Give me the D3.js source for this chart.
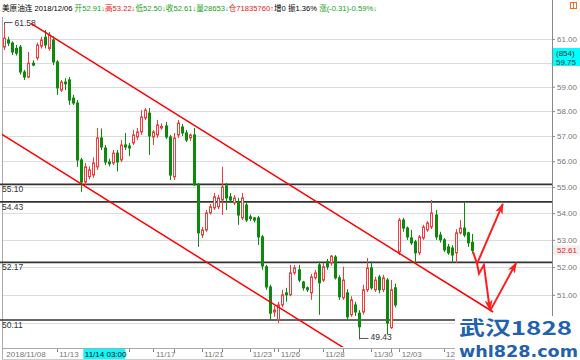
<!DOCTYPE html>
<html><head><meta charset="utf-8">
<script src="https://cdn.jsdelivr.net/npm/d3@7"></script>
<style>body{margin:0;background:#fff}svg{display:block}</style>
</head><body>
<svg id="c" width="580" height="360"></svg>
<script>
// ---- data (4h candles, 美原油连) ----
const opens  = [60.66,60.96,60.83,60.60,60.66,59.61,59.40,59.98,60.20,60.70,61.08,60.60,60.96,60.03,58.86,59.19,59.28,58.53,58.33,56.05,
55.19,55.40,55.46,55.78,56.92,56.52,55.97,55.93,56.32,56.05,56.64,56.60,56.72,56.96,57.16,57.72,57.92,56.96,57.04,57.32,
57.40,56.96,55.39,57.04,57.36,57.12,56.92,57.04,55.08,53.18,53.37,54.01,54.20,54.24,54.50,55.04,54.62,54.39,54.43,53.82,
54.31,53.86,53.82,53.82,53.11,52.01,51.28,50.39,50.11,50.64,51.07,51.00,51.79,51.90,51.46,51.25,51.07,51.61,52.08,51.53,
52.20,52.15,52.37,51.61,50.89,51.07,50.29,50.64,50.35,50.39,51.18,51.97,51.18,51.64,51.18,51.53,49.84,51.25,52.56,53.74,
53.44,53.07,52.93,52.52,53.07,53.37,53.48,53.93,53.18,53.00,52.74,52.70,52.52,53.26,53.44,53.26,52.91];
const highs  = [61.58,61.10,60.90,60.75,60.75,59.70,60.45,60.10,60.85,61.10,61.39,61.30,61.12,60.11,59.28,59.35,59.40,58.66,58.45,56.13,
55.93,55.80,56.15,57.32,57.30,56.64,56.10,56.44,56.44,56.84,57.12,56.72,57.24,57.32,58.04,58.12,58.12,57.24,57.64,57.50,
57.56,57.04,57.12,57.64,57.48,57.24,57.10,57.32,55.15,53.48,54.12,54.35,54.77,54.70,55.78,55.15,54.77,54.69,54.58,54.77,
54.40,53.95,53.86,53.90,53.18,52.08,51.36,50.60,50.75,51.18,51.25,52.08,52.08,52.08,51.50,51.30,51.75,51.90,52.20,52.15,
52.30,52.44,52.44,51.70,52.01,51.20,50.95,50.75,50.46,51.36,52.33,52.20,51.65,51.72,51.72,51.60,51.53,51.40,53.82,53.82,
53.50,53.37,53.00,53.18,53.56,53.70,54.50,54.12,53.30,53.07,52.85,52.80,53.40,53.74,54.39,53.30,53.22];
const lows   = [60.53,60.70,60.32,60.30,59.50,59.28,59.35,59.85,60.10,60.60,60.60,60.50,59.90,58.66,58.78,58.86,58.25,58.25,55.78,54.81,
55.08,55.30,55.35,55.66,56.44,55.85,55.80,55.85,55.60,55.97,56.44,56.20,56.64,56.84,57.04,57.64,56.25,56.64,56.92,57.25,
56.88,55.27,55.27,56.92,57.00,56.76,56.80,55.04,52.74,53.07,53.30,53.95,54.12,54.15,53.93,54.12,54.40,54.31,53.56,53.74,
53.67,53.70,53.65,52.81,51.90,51.18,50.11,50.22,50.00,50.55,50.75,50.95,51.72,51.45,51.15,51.10,50.82,51.55,50.29,51.46,
51.90,52.05,51.55,50.82,50.82,50.11,50.22,50.25,49.43,50.30,51.10,51.18,51.10,51.05,51.10,49.60,49.80,50.55,52.44,53.30,
53.00,52.81,52.15,52.44,53.00,53.30,53.40,53.00,52.90,52.55,52.45,52.15,52.15,53.20,53.10,52.74,52.50];
const closes = [61.04,60.83,60.45,60.40,59.61,59.40,59.98,59.90,60.75,60.96,60.75,61.17,60.03,58.95,59.19,59.12,58.45,58.33,56.05,55.19,
55.78,55.66,55.93,56.92,56.56,55.97,55.90,56.32,55.97,56.64,56.56,56.52,57.04,57.16,57.76,58.04,57.00,57.16,57.44,57.38,
56.96,55.46,56.92,57.52,57.12,56.84,57.04,55.08,53.26,53.37,54.01,54.24,54.62,54.58,55.00,54.58,54.50,54.58,53.93,54.58,
53.74,53.80,53.74,53.11,52.04,51.28,50.35,50.46,50.64,51.00,51.00,51.79,51.97,51.53,51.25,51.18,51.64,51.79,51.43,52.01,
52.01,52.40,51.61,50.93,51.53,50.22,50.82,50.39,49.87,51.18,51.97,51.25,51.53,51.18,51.61,50.00,51.18,50.64,53.74,53.44,
53.11,52.89,52.52,53.11,53.48,53.63,54.01,53.11,53.00,52.63,52.52,52.44,53.26,53.44,53.18,52.89,52.61];

const yTicks = [50,51,52,53,54,55,56,57,58,59,60,61];
const xTickIdx = [13,37,49,61,68,79,91,98,109];
const xTickLabels = ["11/13","11/17","11/21","11/23","11/26","11/28","11/30","12/03","12/05"];
const xMinorIdx = [31,42,54,67,73,84,96];
const firstDateLabel = "2018/11/08";
const crossIdx = 19.6, crossLabel = "11/14 03:00";
const levels = [55.10, 54.43, 52.17, 50.11];
const hiMark = {i:0, v:61.58}, loMark = {i:88, v:49.43};
const upperTrend = [[6.6,61.67],[121.3,50.39]];
const lowerTrend = [[-1.07,57.11],[88.3,48.79]];
const arrowPaths = [
  [[116.3,52.56],[117.3,52.12]],
  [[117.3,52.12],[123.7,54.35]],
  [[117.3,52.12],[117.8,51.76],[119.0,52.08],[120.5,50.46]],
  [[120.5,50.42],[127.0,52.15]]
];
const arrowHeads = [false,true,true,true];
// header segments: text, colour
const header = [
  ["美原油连 ","#000"],["2018/12/06 ","#000"],["开52.91↓","#14a014"],["高53.22↓","#f01414"],
  ["低52.50↓","#14a014"],["收52.61↓","#14a014"],["量28653↓","#14a014"],["仓71835760↑","#f01414"],
  ["增0 ","#000"],["振1.36% ","#000"],["涨(-0.31)-0.59%↓","#14a014"]
];

// ---- layout ----
const L=2, R=552, T=17, B=347;
const RED="#f03c3c", GREEN="#0b8a0b", FONT="'Liberation Sans', Arial, sans-serif";
const svg = d3.select("#c");
const x = d3.scaleLinear().domain([0,116]).range([4.3,471.8]);
const y = d3.scaleLog().domain([49.17,61.95]).range([B,T]);

svg.append("defs").append("clipPath").attr("id","pc").append("rect")
  .attr("x",L).attr("y",T).attr("width",R-L).attr("height",B-T);
const mk = svg.select("defs").append("marker").attr("id","ah").attr("markerUnits","userSpaceOnUse")
  .attr("markerWidth",12).attr("markerHeight",10).attr("refX",10).attr("refY",4).attr("orient","auto");
mk.append("path").attr("d","M0,0 L11,4 L0,8 L3,4 Z").attr("fill","#ff1e1e");

// grid
svg.append("g").selectAll("line").data(yTicks).join("line")
  .attr("x1",L).attr("x2",R).attr("y1",d=>Math.round(y(d))+0.5).attr("y2",d=>Math.round(y(d))+0.5)
  .attr("stroke","#dcdcdc");

// frame
svg.append("line").attr("x1",L+0.5).attr("x2",L+0.5).attr("y1",T).attr("y2",359).attr("stroke","#aaa");
svg.append("line").attr("x1",R+0.5).attr("x2",R+0.5).attr("y1",0).attr("y2",316).attr("stroke","#888");
svg.append("line").attr("x1",L).attr("x2",R).attr("y1",348.5).attr("y2",348.5).attr("stroke","#aaa");
svg.append("line").attr("x1",L).attr("x2",R).attr("y1",359.5).attr("y2",359.5).attr("stroke","#ccc");

// y axis
const ya = svg.append("g").attr("transform",`translate(${R},0)`)
  .call(d3.axisRight(y).tickValues(yTicks).tickSize(3).tickPadding(2).tickFormat(d3.format(".2f")));
ya.select(".domain").remove();
ya.selectAll(".tick line").attr("stroke","#888");
ya.selectAll(".tick text").attr("fill","#777").style("font-family",FONT).style("font-size","8px");

// level lines
const lv = svg.append("g");
lv.selectAll("line").data(levels).join("line")
  .attr("x1",0).attr("x2",R).attr("y1",d=>y(d)).attr("y2",d=>y(d))
  .attr("stroke","#333").attr("stroke-width",1.6);
lv.selectAll("text").data(levels).join("text")
  .attr("x",2).attr("y",d=>y(d)+8).text(d=>d.toFixed(2))
  .attr("fill","#333").style("font-family",FONT).style("font-size","8.5px");

// candles
const data = opens.map((o,i)=>({i,o,h:highs[i],l:lows[i],c:closes[i]}));
const up = d=>d.c>=d.o;
const cg = svg.append("g");
cg.selectAll("line").data(data).join("line")
  .attr("x1",d=>Math.round(x(d.i))+0.5).attr("x2",d=>Math.round(x(d.i))+0.5)
  .attr("y1",d=>y(d.h)).attr("y2",d=>y(d.l)).attr("stroke",d=>up(d)?RED:GREEN);
cg.selectAll("rect").data(data).join("rect")
  .attr("x",d=>Math.round(x(d.i))-0.5).attr("width",2)
  .attr("y",d=>y(Math.max(d.o,d.c)))
  .attr("height",d=>Math.max(0.6,Math.abs(y(d.o)-y(d.c))))
  .attr("fill",d=>up(d)?"#fff":GREEN).attr("stroke",d=>up(d)?RED:GREEN).attr("stroke-width",1);

// hi / lo markers
const hx = Math.round(x(hiMark.i))+0.5, hy=y(hiMark.v);
svg.append("path").attr("d",`M${hx},${hy} V${hy-3} H${hx+8}`).attr("fill","none").attr("stroke","#555");
svg.append("text").attr("x",hx+10).attr("y",hy).text(hiMark.v.toFixed(2))
  .attr("fill","#333").style("font-family",FONT).style("font-size","8.5px");
const lx = Math.round(x(loMark.i))+0.5, ly=y(loMark.v);
svg.append("path").attr("d",`M${lx},${ly-6} V${ly-1} H${lx+9}`).attr("fill","none").attr("stroke","#555");
svg.append("text").attr("x",lx+11).attr("y",ly+1).text(loMark.v.toFixed(2))
  .attr("fill","#333").style("font-family",FONT).style("font-size","8.5px");

// trend lines
const line = d3.line().x(d=>x(d[0])).y(d=>y(d[1]));
const tg = svg.append("g").attr("clip-path","url(#pc)");
[upperTrend, lowerTrend].forEach(t=>tg.append("path").attr("d",line(t))
  .attr("fill","none").attr("stroke","#ff0000").attr("stroke-width",1.5));

// arrows
arrowPaths.forEach((p,k)=>{
  const pa = svg.append("path").attr("d",line(p)).attr("fill","none")
    .attr("stroke","#ff1e1e").attr("stroke-width",2);
  if (arrowHeads[k]) pa.attr("marker-end","url(#ah)");
});

// x axis labels
const xa = svg.append("g").style("font-family",FONT).style("font-size","8px");
xa.append("text").attr("x",x(0)+2).attr("y",356.5).text(firstDateLabel).attr("fill","#777");
xa.selectAll("line.mj").data(xTickIdx.concat(xMinorIdx)).join("line")
  .attr("x1",d=>Math.round(x(d))+0.5).attr("x2",d=>Math.round(x(d))+0.5)
  .attr("y1",349).attr("y2",352).attr("stroke","#888");
xa.selectAll("text.lb").data(xTickIdx).join("text").attr("class","lb")
  .attr("x",d=>x(d)+2.5).attr("y",356.5).text((d,i)=>xTickLabels[i]).attr("fill","#777");
xa.append("rect").attr("x",x(crossIdx)).attr("y",349).attr("width",42).attr("height",10).attr("fill","#00ffff");
xa.append("text").attr("x",x(crossIdx)+1.5).attr("y",356.8).text(crossLabel).attr("fill","#000");

// right axis boxes
svg.append("rect").attr("x",553).attr("y",48).attr("width",27).attr("height",18).attr("fill","#00ffff");
svg.append("text").attr("x",556).attr("y",56).text("(854)").attr("fill","#333").style("font-family",FONT).style("font-size","8px");
svg.append("text").attr("x",556).attr("y",64.5).text("59.75").attr("fill","#333").style("font-family",FONT).style("font-size","8px");
const lastC = closes[closes.length-1];
svg.append("rect").attr("x",553).attr("y",y(lastC)-5).attr("width",27).attr("height",10).attr("fill","#f0f0f0");
svg.append("text").attr("x",557).attr("y",y(lastC)+3).text(lastC.toFixed(2)).attr("fill","#f01414").style("font-family",FONT).style("font-size","8px");

// header (single text, coloured tspans)
const ht = svg.append("text").attr("x",2).attr("y",11)
  .style("font-family","'Liberation Sans','Noto Sans CJK SC',sans-serif").style("font-size","7.6px")
  .attr("xml:space","preserve").style("white-space","pre");
ht.selectAll("tspan").data(header).join("tspan").text(d=>d[0]).attr("fill",d=>d[1]);
svg.append("rect").attr("x",570.5).attr("y",2.5).attr("width",6).attr("height",6).attr("fill","none").attr("stroke","#f07020");
svg.append("line").attr("x1",573.5).attr("x2",573.5).attr("y1",2.5).attr("y2",8.5).attr("stroke","#f07020");

// watermark
svg.append("rect").attr("x",455).attr("y",316).attr("width",125).attr("height",44).attr("fill","#fff");
svg.append("text").attr("x",459).attr("y",335).text("武汉1828").attr("fill","#2261ad")
  .attr("textLength",113).attr("lengthAdjust","spacingAndGlyphs")
  .style("font-family","'Noto Sans CJK SC',sans-serif").style("font-weight","bold").style("font-size","19px");
svg.append("text").attr("x",459).attr("y",357).text("whl828.com").attr("fill","#2261ad")
  .attr("textLength",119).attr("lengthAdjust","spacingAndGlyphs")
  .style("font-family","'DejaVu Sans',sans-serif").style("font-weight","bold").style("font-size","16px");
</script>
</body></html>
